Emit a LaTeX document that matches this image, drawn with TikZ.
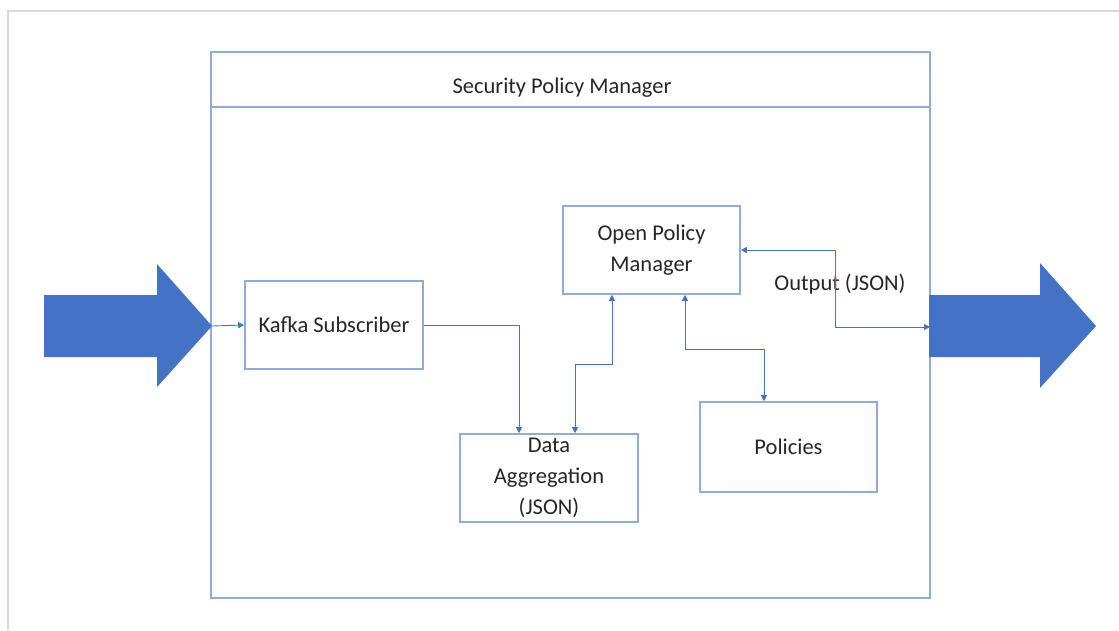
\documentclass[tikz,border=0pt]{standalone}
\usepackage{fontspec}
\setmainfont{Carlito}
\usetikzlibrary{arrows.meta}
\definecolor{frameGray}{HTML}{D9D9D9}
\definecolor{boxBlue}{HTML}{8FAADC}
\definecolor{lineBlue}{HTML}{4472C4}
\definecolor{textDark}{HTML}{262626}
\tikzset{
  every node/.style={text=textDark, font=\fontsize{22.5}{31}\selectfont},
  blockbox/.style={draw=boxBlue, line width=1.6pt, fill=white, inner sep=0pt,
    minimum width=#1, minimum height=88pt, align=center},
  conn/.style={draw=lineBlue, line width=0.9pt, -{Triangle[length=6pt,width=6pt]}},
  biconn/.style={draw=lineBlue, line width=0.9pt,
    {Triangle[length=6pt,width=6pt]}-{Triangle[length=6pt,width=6pt]}},
  bigarrow/.style={fill=lineBlue, draw=none}
}
\begin{document}
\begin{tikzpicture}[x=1pt, y=-1pt]
  \useasboundingbox (0,0) rectangle (1119,630);

  % page frame
  \draw[frameGray, line width=2pt] (8,630) -- (8,11) -- (1119,11);

  % outer container with title band
  \node[draw=boxBlue, line width=1.6pt, minimum width=719pt, minimum height=546pt,
        inner sep=0pt] (spm) at (570.5,325) {};
  \draw[boxBlue, line width=1.6pt] (spm.west |- 0,107) -- (spm.east |- 0,107);
  \node[anchor=base] (title) at (562,93) {Security Policy Manager};

  % big input / output arrows
  \fill[bigarrow] (44,295) -- (157,295) -- (157,264) -- (212,326)
        -- (157,387) -- (157,357) -- (44,357) -- cycle;
  \fill[bigarrow] (929,295) -- (1040,295) -- (1040,263) -- (1096,326)
        -- (1040,388) -- (1040,357) -- (929,357) -- cycle;
  \coordinate (inTip) at (212,326);
  \coordinate (outPort) at (930,327);

  % components
  \node[blockbox=178pt] (kafka) at (334,325) {Kafka Subscriber};
  \node[blockbox=177pt] (opm) at (651.5,250) {Open Policy\\Manager};
  \node[blockbox=178pt] (da) at (549,478) {Data\\Aggregation\\(JSON)};
  \node[blockbox=177pt, minimum height=90pt] (pol) at (788.5,447) {Policies};
  \node[anchor=base] (outlbl) at (840,290) {Output (JSON)};

  % connectors
  \draw[conn] (inTip) -- (kafka.west);
  \draw[conn] (kafka.east) -| ([xshift=-30pt]da.north);
  \draw[biconn] ([xshift=26pt]da.north) -- ++(0,-69) -| ([xshift=-39.5pt]opm.south);
  \draw[biconn] ([xshift=33.5pt]opm.south) -- ++(0,55) -| ([xshift=-24.5pt]pol.north);
  \draw[biconn] (opm.east) -- (835,250) |- (outPort);
\end{tikzpicture}
\end{document}
